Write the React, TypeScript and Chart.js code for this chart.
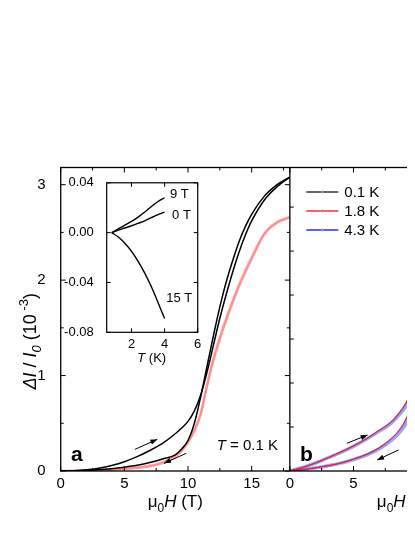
import React, { useEffect, useRef } from 'react';
import { Chart, registerables } from 'chart.js';
Chart.register(...registerables);

// ---------- Panel a : field sweeps (0.1 K black, 1.8 K red) ----------
const fieldA = [0, 1, 2, 3, 4, 5, 6, 7, 8, 9, 9.5, 10, 10.5, 11, 11.5, 12, 12.5, 13, 13.5, 14, 14.5, 15, 16, 17, 18];
const a01KUp = [0, 0.003, 0.012, 0.03, 0.058, 0.097, 0.15, 0.215, 0.29, 0.39, 0.45, 0.52, 0.63, 0.8, 1.04, 1.32, 1.6, 1.85, 2.08, 2.29, 2.47, 2.62, 2.84, 2.98, 3.08];
const a01KDown = [0, 0.002, 0.006, 0.013, 0.024, 0.04, 0.06, 0.088, 0.125, 0.17, 0.23, 0.32, 0.5, 0.78, 1.1, 1.42, 1.72, 1.98, 2.2, 2.4, 2.56, 2.69, 2.88, 3.0, 3.08];
const a18KUp = [0, 0.001, 0.004, 0.009, 0.016, 0.025, 0.037, 0.055, 0.09, 0.16, 0.22, 0.31, 0.43, 0.6, 0.9, 1.16, 1.38, 1.58, 1.76, 1.93, 2.08, 2.22, 2.48, 2.6, 2.66];
const a18KDown = [0, 0.001, 0.003, 0.008, 0.014, 0.022, 0.033, 0.05, 0.083, 0.15, 0.21, 0.3, 0.42, 0.6, 0.9, 1.18, 1.4, 1.6, 1.78, 1.95, 2.1, 2.24, 2.49, 2.61, 2.66];

// ---------- Panel b : three temperatures ----------
const fieldB = [0, 1, 2, 3, 4, 5, 6, 7, 8, 8.5, 9, 9.5, 10, 10.5, 11];
const b43KUp = [0, 0.08, 0.18, 0.3, 0.42, 0.56, 0.72, 0.9, 1.1, 1.25, 1.42, 1.66, 2.0, 2.55, 3.25];
const b43KDown = [0, 0.03, 0.07, 0.12, 0.18, 0.26, 0.36, 0.5, 0.7, 0.84, 1.02, 1.3, 1.72, 2.3, 3.0];
const b18KUp = [0, 0.08, 0.18, 0.3, 0.43, 0.57, 0.73, 0.92, 1.13, 1.3, 1.5, 1.78, 2.2, 2.8, 3.5];
const b18KDown = [0, 0.03, 0.07, 0.12, 0.18, 0.27, 0.38, 0.53, 0.75, 0.9, 1.12, 1.45, 1.95, 2.6, 3.3];
const b01KUp = [0, 0.08, 0.18, 0.3, 0.43, 0.57, 0.73, 0.92, 1.12, 1.28, 1.48, 1.75, 2.15, 2.75, 3.45];
const b01KDown = [0, 0.03, 0.07, 0.12, 0.18, 0.27, 0.37, 0.52, 0.74, 0.89, 1.1, 1.42, 1.9, 2.55, 3.25];
const legendLabels = ['0.1 K', '1.8 K', '4.3 K'];

// ---------- Axis ticks ----------
const panelWidth = 18; // field span of each panel (T)
const xMajor = [0, 5, 10, 15];
const xMinor = [2.5, 7.5, 12.5, 17.5];
const yMajorA = [0, 1, 2, 3];
const yMinorA = [0.5, 1.5, 2.5];
const yTicksB = [1, 2, 3, 4, 5, 6];

// ---------- Inset : temperature dependence ----------
const insetT = [0.8, 1.2, 1.6, 2.0, 2.4, 2.8, 3.2, 3.6, 4.0];
const inset9T = [0, 0.003, 0.006, 0.009, 0.0125, 0.0165, 0.021, 0.025, 0.028];
const inset0T = [0, 0.002, 0.0037, 0.0055, 0.0075, 0.0095, 0.012, 0.0145, 0.0165];
const inset15T = [0, -0.0035, -0.0085, -0.015, -0.023, -0.0325, -0.0435, -0.056, -0.069];
const insetLabels = ['9 T', '0 T', '15 T'];
const insetXTicks = [2, 4, 6];
const insetYTicks = [-0.08, -0.04, 0, 0.04];

const FONT = '"Liberation Sans", Arial, Helvetica, sans-serif';

type Part = { t: string; i?: boolean; b?: boolean; s?: 'sub' | 'sup' };
function drawParts(ctx: CanvasRenderingContext2D, parts: Part[], x: number, y: number, align: string, size: number) {
  const small = Math.round(size * 0.72);
  const fontOf = (p: Part) => `${p.i ? 'italic ' : ''}${p.b ? 'bold ' : ''}${p.s ? small : size}px ${FONT}`;
  let total = 0;
  const widths = parts.map((p) => {
    ctx.font = fontOf(p);
    const w = ctx.measureText(p.t).width;
    total += w;
    return w;
  });
  let cx = align === 'center' ? x - total / 2 : align === 'right' ? x - total : x;
  ctx.textAlign = 'left';
  ctx.textBaseline = 'alphabetic';
  parts.forEach((p, k) => {
    ctx.font = fontOf(p);
    const dy = p.s === 'sub' ? size * 0.3 : p.s === 'sup' ? -size * 0.42 : 0;
    ctx.fillText(p.t, cx, y + dy);
    cx += widths[k];
  });
}

function arrow(ctx: CanvasRenderingContext2D, x1: number, y1: number, x2: number, y2: number) {
  ctx.beginPath();
  ctx.moveTo(x1, y1);
  ctx.lineTo(x2, y2);
  ctx.stroke();
  const a = Math.atan2(y2 - y1, x2 - x1);
  const L = 7, W = 2.6;
  ctx.beginPath();
  ctx.moveTo(x2, y2);
  ctx.lineTo(x2 - L * Math.cos(a) + W * Math.sin(a), y2 - L * Math.sin(a) - W * Math.cos(a));
  ctx.lineTo(x2 - L * Math.cos(a) - W * Math.sin(a), y2 - L * Math.sin(a) + W * Math.cos(a));
  ctx.closePath();
  ctx.fill();
}

// annotation anchors (data units)
const arrowsA = [[5.84, 0.227, 7.59, 0.332], [9.86, 0.185, 8.11, 0.08]];
const arrowsB = [[4.49, 0.63, 6.11, 0.82], [8.55, 0.48, 6.85, 0.25]];

const pts = (xs: number[], ys: number[], off = 0) => xs.map((x, i) => ({ x: x + off, y: ys[i] }));

const mainPlugin = {
  id: 'mainDecor',
  afterDraw(chart: any) {
    const ctx: CanvasRenderingContext2D = chart.ctx;
    const ca = chart.chartArea;
    const x = chart.scales.x, y = chart.scales.y, yb = chart.scales.yb;
    const sep = x.getPixelForValue(panelWidth);
    ctx.save();
    ctx.strokeStyle = '#000';
    ctx.fillStyle = '#000';
    ctx.lineWidth = 1.3;
    ctx.strokeRect(ca.left, ca.top, ca.right - ca.left, ca.bottom - ca.top);
    ctx.beginPath();
    ctx.moveTo(sep, ca.top);
    ctx.lineTo(sep, ca.bottom);
    ctx.stroke();
    ctx.lineWidth = 1;
    const seg = (x1: number, y1: number, x2: number, y2: number) => {
      ctx.beginPath();
      ctx.moveTo(x1, y1);
      ctx.lineTo(x2, y2);
      ctx.stroke();
    };
    [0, panelWidth].forEach((off) => {
      xMajor.forEach((v) => {
        const p = x.getPixelForValue(v + off);
        seg(p, ca.bottom, p, ca.bottom - 5);
        seg(p, ca.top, p, ca.top + 5);
      });
      xMinor.forEach((v) => {
        const p = x.getPixelForValue(v + off);
        seg(p, ca.bottom, p, ca.bottom - 3);
        seg(p, ca.top, p, ca.top + 3);
      });
    });
    yMajorA.forEach((v) => {
      const p = y.getPixelForValue(v);
      seg(ca.left, p, ca.left + 5, p);
      seg(sep, p, sep - 5, p);
    });
    yMinorA.forEach((v) => {
      const p = y.getPixelForValue(v);
      seg(ca.left, p, ca.left + 3, p);
      seg(sep, p, sep - 3, p);
    });
    yTicksB.forEach((v) => {
      const p = yb.getPixelForValue(v);
      seg(sep, p, sep + 4, p);
    });

    // arrows
    arrowsA.forEach(([x1, y1, x2, y2]) =>
      arrow(ctx, x.getPixelForValue(x1), y.getPixelForValue(y1), x.getPixelForValue(x2), y.getPixelForValue(y2)));
    arrowsB.forEach(([x1, y1, x2, y2]) =>
      arrow(ctx, x.getPixelForValue(x1 + panelWidth), yb.getPixelForValue(y1), x.getPixelForValue(x2 + panelWidth), yb.getPixelForValue(y2)));

    // panel labels
    ctx.font = `bold 21px ${FONT}`;
    ctx.textAlign = 'center';
    ctx.textBaseline = 'alphabetic';
    ctx.fillText('a', x.getPixelForValue(1.26), y.getPixelForValue(0.1));
    ctx.fillText('b', x.getPixelForValue(panelWidth + 1.3), y.getPixelForValue(0.1));
    drawParts(ctx, [{ t: 'T', i: true }, { t: ' = 0.1 K' }], x.getPixelForValue(12.25), y.getPixelForValue(0.215), 'left', 15);

    // legend (panel b)
    const colors = ['#333333', '#ff2a2a', '#2a2aff'];
    const lx = sep + 16.5;
    legendLabels.forEach((lab, k) => {
      const ly = ca.top + 24.5 + k * 19;
      ctx.strokeStyle = colors[k];
      ctx.lineWidth = 1.3;
      seg(lx, ly, lx + 32, ly);
      ctx.fillStyle = '#999';
      ctx.beginPath();
      ctx.arc(lx + 16, ly, 1.4, 0, Math.PI * 2);
      ctx.fill();
      ctx.fillStyle = '#000';
      ctx.font = `15px ${FONT}`;
      ctx.textAlign = 'left';
      ctx.textBaseline = 'middle';
      ctx.fillText(lab, lx + 38, ly + 1);
    });

    // axis titles
    ctx.fillStyle = '#000';
    const xt: Part[] = [{ t: 'μ' }, { t: '0', s: 'sub' }, { t: 'H', i: true }, { t: ' (T)' }];
    drawParts(ctx, xt, (ca.left + sep) / 2, ca.bottom + 36, 'center', 17);
    drawParts(ctx, xt, sep + (sep - ca.left) / 2, ca.bottom + 36, 'center', 17);
    ctx.translate(ca.left - 31, (ca.top + ca.bottom) / 2 + 22);
    ctx.rotate(-Math.PI / 2);
    drawParts(ctx, [{ t: 'ΔI', i: true }, { t: ' / ' }, { t: 'I', i: true }, { t: '0', i: true, s: 'sub' }, { t: ' (10' }, { t: ' -3', s: 'sup' }, { t: ')' }], 0, 6, 'center', 18);
    ctx.restore();
  },
};

const insetPlugin = {
  id: 'insetDecor',
  beforeDatasetsDraw(chart: any) {
    const ctx = chart.ctx;
    const ca = chart.chartArea;
    ctx.save();
    ctx.fillStyle = '#fff';
    ctx.fillRect(ca.left, ca.top, ca.right - ca.left, ca.bottom - ca.top);
    ctx.restore();
  },
  afterDraw(chart: any) {
    const ctx: CanvasRenderingContext2D = chart.ctx;
    const ca = chart.chartArea;
    const x = chart.scales.x, y = chart.scales.y;
    ctx.save();
    ctx.strokeStyle = '#000';
    ctx.fillStyle = '#000';
    ctx.lineWidth = 1.2;
    ctx.strokeRect(ca.left, ca.top, ca.right - ca.left, ca.bottom - ca.top);
    ctx.lineWidth = 1;
    const seg = (x1: number, y1: number, x2: number, y2: number) => {
      ctx.beginPath();
      ctx.moveTo(x1, y1);
      ctx.lineTo(x2, y2);
      ctx.stroke();
    };
    insetXTicks.forEach((v) => {
      const p = x.getPixelForValue(v);
      seg(p, ca.bottom, p, ca.bottom - 4);
      seg(p, ca.top, p, ca.top + 4);
    });
    insetYTicks.forEach((v) => {
      const p = y.getPixelForValue(v);
      seg(ca.left, p, ca.left + 4, p);
      seg(ca.right, p, ca.right - 4, p);
    });
    ctx.font = `13px ${FONT}`;
    ctx.textAlign = 'left';
    ctx.textBaseline = 'middle';
    const labelPos = [[4.32, 0.031], [4.45, 0.0135], [4.1, -0.053]];
    insetLabels.forEach((lab, k) => {
      ctx.fillText(lab, x.getPixelForValue(labelPos[k][0]), y.getPixelForValue(labelPos[k][1]));
    });
    drawParts(ctx, [{ t: 'T', i: true }, { t: ' (K)' }], (ca.left + ca.right) / 2 - 0.5, ca.bottom + 30, 'center', 13);
    ctx.restore();
  },
};

function mainConfig(): any {
  const line = (data: any, color: string, width: number, yAxisID: string, order: number) => ({
    data, borderColor: color, borderWidth: width, pointRadius: 0, fill: false,
    cubicInterpolationMode: 'monotone', yAxisID, order,
  });
  return {
    type: 'line',
    data: {
      datasets: [
        line(pts(fieldA, a01KUp), '#000', 1.5, 'y', 0),
        line(pts(fieldA, a01KDown), '#000', 1.5, 'y', 0),
        line(pts(fieldA, a18KUp), 'rgba(255,120,120,0.6)', 2.4, 'y', 2),
        line(pts(fieldA, a18KDown), 'rgba(255,120,120,0.6)', 2.4, 'y', 2),
        line(pts(fieldB, b43KUp, panelWidth), 'rgba(80,80,255,0.55)', 3.4, 'yb', 5),
        line(pts(fieldB, b43KDown, panelWidth), 'rgba(80,80,255,0.55)', 3.4, 'yb', 5),
        line(pts(fieldB, b01KUp, panelWidth), '#444', 0.8, 'yb', 4),
        line(pts(fieldB, b01KDown, panelWidth), '#444', 0.8, 'yb', 4),
        line(pts(fieldB, b18KUp, panelWidth), '#ff1a1a', 1, 'yb', 3),
        line(pts(fieldB, b18KDown, panelWidth), '#ff1a1a', 1, 'yb', 3),
      ],
    },
    options: {
      responsive: false,
      animation: false,
      events: [],
      layout: { padding: { top: 159.5, right: 109, left: 0, bottom: 0 } },
      plugins: { legend: { display: false }, tooltip: { enabled: false } },
      scales: {
        x: {
          type: 'linear', min: 0, max: 2 * panelWidth,
          grid: { display: false }, border: { display: false },
          afterBuildTicks: (s: any) => {
            s.ticks = xMajor.map((v) => ({ value: v })).concat(xMajor.map((v) => ({ value: v + panelWidth })));
          },
          afterFit: (s: any) => { s.height = 57; },
          ticks: {
            autoSkip: false, maxRotation: 0, padding: -4.5, color: '#000',
            font: { family: FONT, size: 15 },
            callback: (v: number) => String(v >= panelWidth ? v - panelWidth : v),
          },
        },
        y: {
          type: 'linear', min: 0, max: 3.18, position: 'left',
          grid: { display: false }, border: { display: false },
          afterBuildTicks: (s: any) => { s.ticks = yMajorA.map((v) => ({ value: v })); },
          afterFit: (s: any) => { s.width = 52.7; },
          ticks: { padding: 7, color: '#000', font: { family: FONT, size: 15 } },
        },
        yb: { type: 'linear', min: 0, max: 6.9, display: false },
      },
    },
    plugins: [mainPlugin],
  };
}

function insetConfig(): any {
  const line = (ys: number[]) => ({
    data: pts(insetT, ys), borderColor: '#000', borderWidth: 1.4, pointRadius: 0, fill: false,
    cubicInterpolationMode: 'monotone',
  });
  return {
    type: 'line',
    data: { datasets: [line(inset9T), line(inset0T), line(inset15T)] },
    options: {
      responsive: false,
      animation: false,
      events: [],
      layout: { padding: { top: 11, right: 32.3, left: 0, bottom: 0 } },
      plugins: { legend: { display: false }, tooltip: { enabled: false } },
      scales: {
        x: {
          type: 'linear', min: 0.5, max: 6,
          grid: { display: false }, border: { display: false },
          afterBuildTicks: (s: any) => { s.ticks = insetXTicks.map((v) => ({ value: v })); },
          afterFit: (s: any) => { s.height = 37.7; },
          ticks: { autoSkip: false, maxRotation: 0, padding: -3.5, color: '#000', font: { family: FONT, size: 13 } },
        },
        y: {
          type: 'linear', min: -0.08, max: 0.04,
          grid: { display: false }, border: { display: false },
          afterBuildTicks: (s: any) => { s.ticks = insetYTicks.map((v) => ({ value: v })); },
          afterFit: (s: any) => { s.width = 46.7; },
          ticks: {
            padding: 5, color: '#000', font: { family: FONT, size: 13 },
            callback: (v: number) => v.toFixed(2),
          },
        },
      },
    },
    plugins: [insetPlugin],
  };
}

export default function App() {
  const mainRef = useRef<HTMLCanvasElement>(null);
  const insetRef = useRef<HTMLCanvasElement>(null);
  useEffect(() => {
    const main = new Chart(mainRef.current as HTMLCanvasElement, mainConfig());
    const inset = new Chart(insetRef.current as HTMLCanvasElement, insetConfig());
    return () => {
      main.destroy();
      inset.destroy();
    };
  }, []);
  return (
    <div style={{ position: 'relative', width: 407, height: 520, overflow: 'hidden' }}>
      <canvas ref={mainRef} width={620} height={520} style={{ position: 'absolute', left: 0, top: 0, width: 620, height: 520 }} />
      <canvas ref={insetRef} width={170} height={200} style={{ position: 'absolute', left: 52, top: 162, width: 170, height: 200 }} />
    </div>
  );
}
